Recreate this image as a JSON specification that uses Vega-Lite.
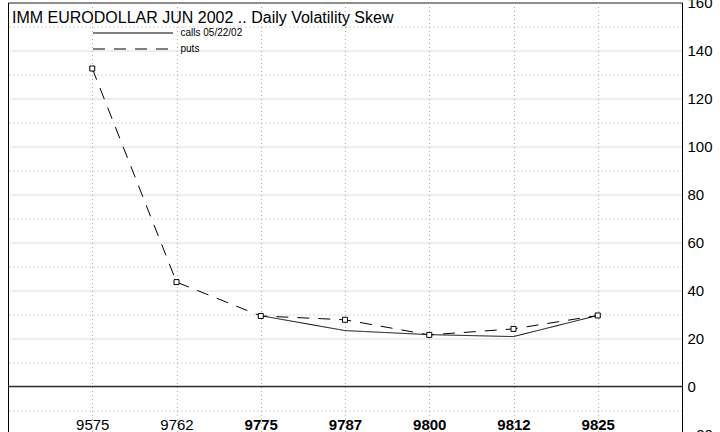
{
  "$schema": "https://vega.github.io/schema/vega-lite/v6.json",
  "autosize": {"type": "none"},
  "padding": {"left": 8, "top": 2.5, "right": 38, "bottom": -2.5},
  "width": 674,
  "height": 432,
  "background": "white",
  "title": {
    "text": "IMM EURODOLLAR JUN 2002 .. Daily Volatility Skew",
    "anchor": "start",
    "frame": "group",
    "orient": "top",
    "offset": -43.5,
    "baseline": "alphabetic",
    "dx": 4,
    "font": "Liberation Sans",
    "fontSize": 16,
    "fontWeight": "normal",
    "color": "black"
  },
  "config": {
    "view": {"stroke": "black", "strokeWidth": 1},
    "font": "Liberation Sans"
  },
  "data": {
    "values": [
      {"strike": 9575, "series": "puts", "vol": 132.5},
      {"strike": 9762, "series": "puts", "vol": 43.5},
      {"strike": 9775, "series": "puts", "vol": 29.4},
      {"strike": 9787, "series": "puts", "vol": 27.8},
      {"strike": 9800, "series": "puts", "vol": 21.5},
      {"strike": 9812, "series": "puts", "vol": 24.0},
      {"strike": 9825, "series": "puts", "vol": 29.6},
      {"strike": 9775, "series": "calls 05/22/02", "vol": 29.5},
      {"strike": 9787, "series": "calls 05/22/02", "vol": 23.3},
      {"strike": 9800, "series": "calls 05/22/02", "vol": 21.6},
      {"strike": 9812, "series": "calls 05/22/02", "vol": 20.8},
      {"strike": 9825, "series": "calls 05/22/02", "vol": 29.6}
    ]
  },
  "encoding": {
    "x": {
      "field": "strike",
      "type": "ordinal",
      "sort": "ascending",
      "scale": {"type": "point", "padding": 1.013},
      "axis": {
        "orient": "bottom",
        "offset": -10,
        "title": null,
        "labelAngle": 0,
        "labelBaseline": "middle",
        "labelPadding": 0,
        "ticks": false,
        "domain": false,
        "labelFont": "Liberation Sans",
        "labelFontSize": 15,
        "labelColor": "black",
        "labelFontWeight": {"condition": {"test": "datum.value >= 9775", "value": "bold"}, "value": "normal"},
        "grid": true,
        "gridColor": "#aaaaaa",
        "gridDash": [1, 3],
        "gridWidth": 1
      }
    },
    "y": {
      "field": "vol",
      "type": "quantitative",
      "scale": {"domain": [-20, 160], "nice": false, "zero": false},
      "axis": {
        "orient": "right",
        "title": null,
        "values": [-20, -10, 0, 10, 20, 30, 40, 50, 60, 70, 80, 90, 100, 110, 120, 130, 140, 150, 160],
        "labelExpr": "datum.value % 20 === 0 ? datum.label : ''",
        "ticks": false,
        "domain": true,
        "domainColor": "black",
        "labelFont": "Liberation Sans",
        "labelFontSize": 15,
        "labelColor": "black",
        "labelPadding": 5,
        "grid": true,
        "gridWidth": 1,
        "gridColor": {"condition": {"test": "datum.value % 20 === 0", "value": "#b8b8b8"}, "value": "#aaaaaa"},
        "gridDash": {"condition": {"test": "datum.value % 20 === 0", "value": [1, 1]}, "value": [1, 3]}
      }
    }
  },
  "layer": [
    {
      "data": {"values": [{"z": 0}]},
      "mark": {"type": "rule", "color": "#333333", "strokeWidth": 1.3},
      "encoding": {"y": {"field": "z", "type": "quantitative"}, "x": null}
    },
    {
      "mark": {"type": "line", "color": "black", "strokeWidth": 1},
      "encoding": {
        "strokeDash": {
          "field": "series",
          "type": "nominal",
          "scale": {"domain": ["calls 05/22/02", "puts"], "range": [[1, 0], [12, 9]]},
          "legend": {
            "orient": "none",
            "legendX": 159.5,
            "legendY": 25,
            "title": null,
            "symbolType": "M-16,0H0",
            "symbolSize": 100,
            "symbolStrokeColor": "black",
            "symbolStrokeWidth": 1,
            "labelFont": "Liberation Sans",
            "labelFontSize": 10,
            "labelColor": "black",
            "labelOffset": 2,
            "rowPadding": 5
          }
        }
      }
    },
    {
      "transform": [{"filter": "datum.series === 'puts'"}],
      "mark": {"type": "point", "shape": "square", "filled": false, "fill": "white", "stroke": "black", "strokeWidth": 1, "size": 25, "opacity": 1}
    }
  ]
}
